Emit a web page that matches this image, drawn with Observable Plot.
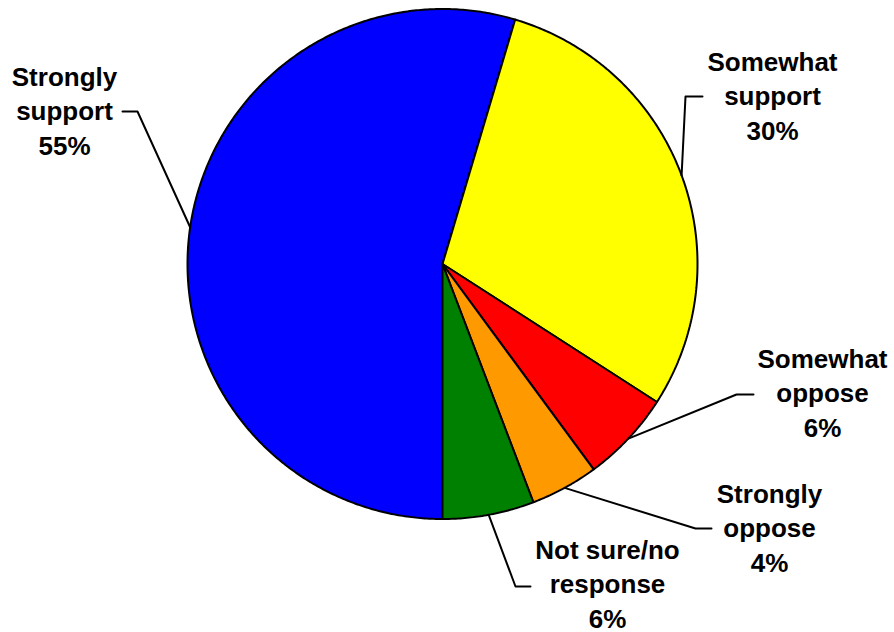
<!DOCTYPE html>
<html><head><meta charset="utf-8">
<script src="https://cdn.jsdelivr.net/npm/d3@7"></script>
<script src="https://cdn.jsdelivr.net/npm/@observablehq/plot@0.6"></script>
<style>html,body{margin:0;padding:0;background:#fff}#chart svg{display:block}</style>
</head><body><div id="chart"></div>
<script>
// ---- data ----
const categories = ["Strongly support","Somewhat support","Somewhat oppose","Strongly oppose","Not sure/no response"];
const labelLines = [["Strongly","support"],["Somewhat","support"],["Somewhat","oppose"],["Strongly","oppose"],["Not sure/no","response"]];
const values = [54.6, 29.5, 5.8, 4.3, 5.8];
const percentLabels = ["55%","30%","6%","4%","6%"];
const colors = ["#0000ff","#ffff00","#ff0000","#ff9900","#008000"];

// ---- layout (pixels) ----
const W = 894, H = 632, CX = 442, CY = 263.5, R = 255;
const layout = [
  {elbow:[137,111], end:[122,111], text:[64,154]},
  {elbow:[685,96],  end:[702,96],  text:[772,139]},
  {elbow:[736,394], end:[753,394], text:[822,436]},
  {elbow:[695,528], end:[711,528], text:[769,571]},
  {elbow:[515,586], end:[530,586], text:[607,627]}
];
const fx = px => (px - CX) / R;
const fy = py => (CY - py) / R;

const arcs = d3.pie().sort(null).value(d => d).startAngle(Math.PI).endAngle(3 * Math.PI)(values);

const slicePts = [];
arcs.forEach((a, i) => {
  slicePts.push({k: categories[i], x: 0, y: 0});
  const n = Math.max(2, Math.ceil((a.endAngle - a.startAngle) / (Math.PI / 360)));
  for (let j = 0; j <= n; j++) {
    const t = a.startAngle + (a.endAngle - a.startAngle) * j / n;
    slicePts.push({k: categories[i], x: Math.sin(t), y: Math.cos(t)});
  }
  slicePts.push({k: categories[i], x: 0, y: 0});
});

const leaderPts = [];
arcs.forEach((a, i) => {
  const m = (a.startAngle + a.endAngle) / 2;
  const L = layout[i];
  leaderPts.push({k: categories[i], x: Math.sin(m), y: Math.cos(m)});
  leaderPts.push({k: categories[i], x: fx(L.elbow[0]), y: fy(L.elbow[1])});
  leaderPts.push({k: categories[i], x: fx(L.end[0]), y: fy(L.end[1])});
});

const texts = categories.map((c, i) => ({
  x: fx(layout[i].text[0]), y: fy(layout[i].text[1]),
  t: [...labelLines[i], percentLabels[i]].join("\n")
}));

const chart = Plot.plot({
  width: W, height: H, margin: 0,
  x: {domain: [fx(0), fx(W)], axis: null},
  y: {domain: [fy(H), fy(0)], axis: null},
  color: {domain: categories, range: colors},
  style: {background: "#fff"},
  marks: [
    Plot.line(slicePts, {x: "x", y: "y", z: "k", fill: "k", stroke: "black", strokeWidth: 2, strokeLinejoin: "miter", curve: "linear"}),
    Plot.line(leaderPts, {x: "x", y: "y", z: "k", stroke: "black", strokeWidth: 2, curve: "linear"}),
    Plot.text(texts, {x: "x", y: "y", text: "t", lineAnchor: "bottom", lineHeight: 1.31, fontSize: 26, fontWeight: "bold", fontFamily: "'Liberation Sans', Arial, sans-serif", fill: "black", textAnchor: "middle"})
  ]
});
document.getElementById("chart").appendChild(chart);
</script>
</body></html>
